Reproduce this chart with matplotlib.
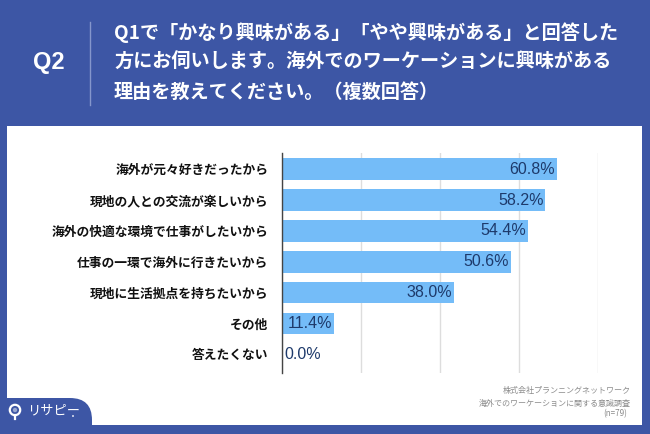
import matplotlib
matplotlib.use('Agg')
import matplotlib.pyplot as plt
from matplotlib.patches import Rectangle, FancyBboxPatch, Circle

# ---- data ----
categories = ["海外が元々好きだったから", "現地の人との交流が楽しいから", "海外の快適な環境で仕事がしたいから",
              "仕事の一環で海外に行きたいから", "現地に生活拠点を持ちたいから", "その他", "答えたくない"]
values = [60.8, 58.2, 54.4, 50.6, 38.0, 11.4, 0.0]
value_labels = ["60.8%", "58.2%", "54.4%", "50.6%", "38.0%", "11.4%", "0.0%"]
q_label = "Q2"
title_lines = ["Q1で「かなり興味がある」「やや興味がある」と回答した",
               "方にお伺いします。海外でのワーケーションに興味がある",
               "理由を教えてください。（複数回答）"]
source_lines = ["株式会社プランニングネットワーク", "海外でのワーケーションに関する意識調査", "(n=79)"]
logo_text = "リサピー"
grid_ticks = [0, 17.5, 35, 52.5, 70]

BLUE = "#3D56A5"
BAR = "#74BCF8"
NAVY = "#1E3A6B"
JP = ["Noto Sans CJK JP", "DejaVu Sans"]

W, H = 650, 434
fig = plt.figure(figsize=(6.5, 4.34), dpi=100)
fig.patch.set_facecolor(BLUE)

bg = fig.add_axes([0, 0, 1, 1])
bg.set_xlim(0, W)
bg.set_ylim(H, 0)
bg.axis('off')

# white panel
bg.add_patch(Rectangle((7, 126), 635, 299, facecolor="white", edgecolor="none"))
# bottom-left logo tab
bg.add_patch(FancyBboxPatch((-40, 398), 132, 80, boxstyle="round,pad=0,rounding_size=22",
                            facecolor=BLUE, edgecolor="none"))

# header
bg.text(49, 63, q_label, color="white", fontsize=17, fontweight="bold",
        family=["Liberation Sans", "DejaVu Sans"], ha="center", va="center")
bg.plot([90, 90], [22, 105], color="#8596CC", lw=1)
for i, line in enumerate(title_lines):
    bg.text(114, 33 + i * 29.5, line, color="white", fontsize=13.8, fontweight="bold",
            family=JP, ha="left", va="center")

# source
src_y = [391, 403, 414]
src_x = [631, 631, 627]
for s, y, x in zip(source_lines, src_y, src_x):
    bg.text(x, y, s, color="#8C8C8C", fontsize=5.8, family=JP, ha="right", va="center")

# logo
bg.add_patch(Circle((15, 410), 5.2, facecolor="none", edgecolor="white", lw=1.6))
bg.add_patch(Circle((15, 410), 2.2, facecolor="#9AA8CF", edgecolor="none"))
bg.plot([15, 15], [415, 419], color="white", lw=1.6)
bg.text(27, 411, logo_text, color="white", fontsize=9.5, family=JP,
        ha="left", va="center")
bg.add_patch(Circle((73, 416), 0.9, facecolor="white", edgecolor="none"))

# chart axes
x0, x1 = 282.3, 598.3
y0, y1 = 152.7, 372.7
ax = fig.add_axes([x0 / W, (H - y1) / H, (x1 - x0) / W, (y1 - y0) / H])
ax.set_facecolor("none")
ypos = list(range(len(categories)))
ax.barh(ypos, values, height=0.7, color=BAR, zorder=2)
ax.set_xlim(0, 70)
ax.set_ylim(6.596, -0.535)
ax.set_xticks(grid_ticks)
ax.xaxis.grid(True, color="#DDDDDD", lw=1, zorder=0)
ax.tick_params(axis="x", length=0, labelbottom=False)
ax.tick_params(axis="y", length=0, pad=10)
ax.set_yticks(ypos)
ax.set_yticklabels(categories, fontsize=9.2, fontweight="bold", family=JP, color="#111111")
for sp in ["top", "right", "bottom"]:
    ax.spines[sp].set_visible(False)
ax.spines["left"].set_color("#444444")
ax.spines["left"].set_linewidth(1)
ax.spines["left"].set_zorder(3)

for yv, v, lab in zip(ypos, values, value_labels):
    if v < 5:
        ax.text(0.4, yv, lab, ha="left", va="center", color=NAVY, fontsize=11.5,
                family=["Liberation Sans", "DejaVu Sans"], zorder=4)
    else:
        ax.text(v - 0.35, yv, lab, ha="right", va="center", color=NAVY, fontsize=11.5,
                family=["Liberation Sans", "DejaVu Sans"], zorder=4)

fig.savefig("out.png", dpi=100, facecolor=fig.get_facecolor())
